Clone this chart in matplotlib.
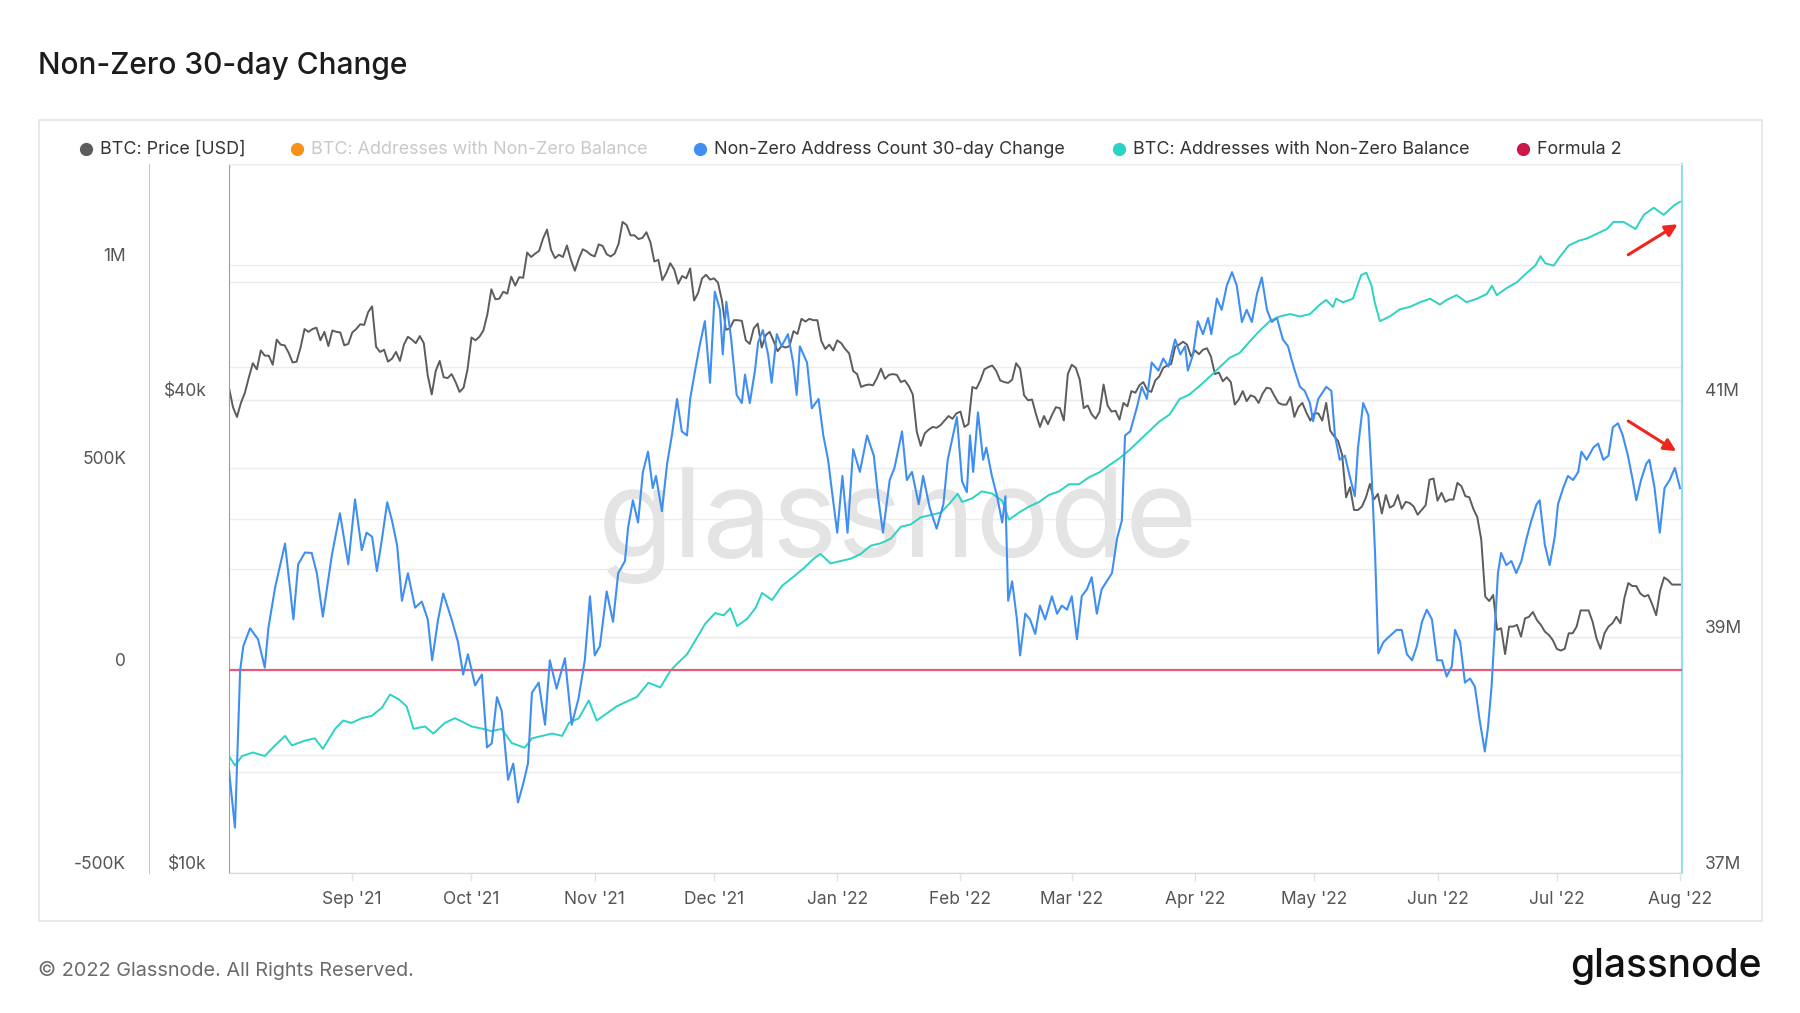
import numpy as np
import pandas as pd
import matplotlib
matplotlib.use("Agg")
import matplotlib.pyplot as plt
from matplotlib.lines import Line2D
from matplotlib.patches import Rectangle
from matplotlib.transforms import blended_transform_factory

plt.rcParams['font.family'] = ['Inter', 'DejaVu Sans']

# ---- data ----
start = pd.Timestamp("2021-08-01")

# BTC daily price, thousands of USD
aug21 = [41.5, 39.2, 38.1, 39.7, 40.9, 42.8, 44.6, 43.8, 46.3, 45.6, 45.6, 44.4, 47.8, 47.1, 47.0, 46.0,
         44.7, 44.8, 46.7, 49.3, 48.9, 49.3, 49.5, 47.7, 48.9, 46.9, 49.1, 48.9, 48.8, 47.0, 47.2]
sep21 = [48.8, 49.3, 50.0, 49.9, 51.8, 52.7, 46.8, 46.1, 46.4, 44.8, 45.2, 46.1, 44.9, 47.1, 48.2, 47.8,
         47.3, 48.3, 47.3, 43.0, 40.7, 43.6, 44.9, 42.8, 42.7, 43.2, 42.2, 41.0, 41.5, 43.8]
oct21 = [48.1, 47.7, 48.2, 49.1, 51.5, 55.4, 53.8, 53.9, 55.0, 54.7, 57.5, 56.0, 57.4, 57.3, 61.7, 60.9,
         61.5, 62.0, 64.3, 66.0, 62.2, 60.7, 61.3, 60.9, 63.0, 60.4, 58.5, 60.6, 62.3, 61.9, 61.3]
nov21 = [61.0, 63.2, 62.9, 61.4, 61.0, 61.5, 63.3, 67.5, 66.9, 64.9, 64.9, 64.2, 64.4, 65.5, 63.6, 60.1,
         60.4, 56.9, 58.1, 59.8, 58.7, 56.3, 57.6, 57.2, 58.9, 53.6, 54.8, 57.2, 57.8, 57.0]
dec21 = [57.2, 56.5, 53.6, 49.2, 49.4, 50.6, 50.6, 50.5, 47.7, 47.2, 49.4, 50.1, 46.7, 48.4, 48.9, 47.6,
         46.2, 46.9, 46.7, 46.9, 49.0, 48.6, 50.8, 50.4, 50.8, 50.6, 50.6, 47.6, 46.5, 47.1, 46.3]
jan22 = [47.7, 47.3, 46.5, 45.9, 43.6, 43.2, 41.6, 41.8, 41.9, 41.8, 42.7, 43.9, 42.6, 43.1, 43.2, 43.1,
         42.2, 42.4, 41.7, 40.7, 36.5, 35.0, 36.3, 36.7, 37.0, 36.9, 37.2, 37.7, 38.2, 37.9, 38.5]
feb22 = [38.7, 37.0, 37.3, 41.6, 41.4, 42.4, 43.8, 44.1, 44.3, 43.6, 42.4, 42.2, 42.1, 42.5, 44.6, 43.9,
         40.6, 40.0, 40.1, 38.4, 37.0, 38.2, 37.3, 38.3, 39.2, 39.1, 37.7, 43.2]
mar22 = [44.4, 44.0, 42.5, 39.1, 39.4, 38.4, 37.9, 38.7, 41.9, 39.4, 38.7, 38.8, 37.8, 39.7, 39.3, 41.1,
         40.9, 41.8, 42.2, 41.2, 41.0, 42.4, 42.9, 44.0, 44.3, 44.5, 46.8, 47.1, 47.5, 47.1, 45.5]
apr22 = [46.3, 45.8, 46.4, 46.6, 45.5, 43.2, 43.4, 42.3, 42.8, 42.2, 39.5, 40.1, 41.1, 39.9, 40.6, 40.4,
         39.7, 40.8, 41.5, 41.4, 40.5, 39.7, 39.5, 39.5, 40.4, 38.1, 39.2, 39.7, 38.6, 37.7]
may22 = [38.5, 38.5, 37.7, 39.7, 36.6, 36.0, 35.5, 34.1, 30.1, 31.0, 29.0, 29.0, 29.3, 30.1, 31.3, 29.9,
         30.4, 28.7, 30.3, 29.2, 29.4, 30.3, 29.1, 29.7, 29.6, 29.3, 28.6, 29.0, 29.4, 31.7, 31.8]
jun22 = [29.8, 30.5, 29.7, 29.9, 29.9, 31.4, 31.1, 30.2, 30.1, 29.1, 28.4, 26.6, 22.5, 22.2, 22.6, 20.4,
         20.5, 19.0, 20.6, 20.6, 20.7, 20.0, 21.1, 21.2, 21.5, 21.0, 20.7, 20.3, 20.1, 19.8]
jul22 = [19.3, 19.2, 19.3, 20.2, 20.2, 20.6, 21.6, 21.6, 21.6, 20.9, 19.9, 19.3, 20.2, 20.6, 20.8, 21.2,
         20.8, 22.4, 23.4, 23.2, 23.2, 22.7, 22.5, 22.6, 22.0, 21.3, 22.9, 23.8, 23.6, 23.3, 23.3]
aug22 = [23.3]

# Non-Zero Address Count 30-day Change (days since start, thousands)
chg_day = [0, 1.5, 2.8, 3.6, 5.3, 7.3, 9, 9.9, 11.6, 14.1, 16.2, 17.4, 19.1, 20.8, 22.1, 23.6, 25.9, 27.9,
           30, 31.7, 33.4, 34.6, 36, 37.2, 38.5, 39.8, 41, 42.3, 43.5, 45, 46.8, 48.5, 50, 51.1, 52.6,
           53.9, 56, 57.6, 58.9, 60.1, 61.9, 63.6, 64.9, 66.1, 67.4, 68.6, 70.2, 71.5, 72.7, 74, 75.2,
           76.2, 77.9, 79.5, 80.7, 82.4, 84.5, 86.2, 87.9, 89.5, 90.8, 92, 93.3, 95, 96.6, 97.9, 99.6,
           100.4, 101.6, 102.9, 104.1, 105.4, 106.6, 107.4, 108.9, 110.2, 111.4, 112.7, 113.9, 115.2,
           116, 117.2, 118.5, 119.7, 121, 122.2, 123.5, 124.2, 125.1, 126.3, 127.7, 129, 129.8, 131,
           132.3, 133.1, 134.3, 135.6, 136.5, 137.8, 139, 140.6, 141.9, 142.8, 143.6, 145.4, 146.6,
           148.3, 149.5, 150.7, 151.7, 153, 154.3, 155.6, 157, 158.7, 160.5, 162.2, 163.4, 164.5,
           166.2, 167.4, 169.3, 170.5, 171.8, 173.5, 174.6, 176.3, 178, 179.7, 180.8, 183.1, 184.4,
           185.6, 186.4, 187.2, 188.4, 189.7, 190.5, 191.9, 193.2, 194.5, 195.3, 196, 197, 198.2, 199,
           200.3, 201.5, 202.8, 204, 205.3, 207, 208.3, 209.5, 210.8, 212, 213.3, 214.5, 215.8, 217,
           218.3, 219.5, 220.8, 222.1, 223.4, 224.6, 225.4, 226.7, 228.4, 229.6, 230.9, 232.1, 233.8,
           235, 236.3, 238, 239.3, 240.5, 241.2, 242.5, 243.7, 245, 246.3, 247.1, 248.5, 249.7, 251,
           252.3, 253.5, 254.8, 256, 257.3, 258.6, 259.8, 261.1, 262.3, 263.6, 265.1, 266.4, 267.2,
           268.1, 269.4, 270.6, 271.9, 272.7, 274, 276, 277.3, 278.2, 279.4, 280.7, 281.9, 283.2, 284,
           285.3, 286.6, 287.4, 288.3, 289.1, 290.4, 292, 293.7, 295, 296.3, 297.6, 298.8, 300.1,
           301.3, 302.6, 303.9, 305.1, 306.3, 307.6, 308.4, 309.7, 310.9, 312.2, 313.4, 314.6, 315.9,
           316.7, 317.6, 318.4, 319.2, 320, 321.3, 322.6, 323.8, 325.1, 326.4, 327.6, 328.9, 329.7,
           331, 332.2, 333.5, 334.3, 335.6, 336.8, 338.1, 339.4, 340.2, 341.5, 343.2, 344.4, 345.7,
           347, 348.1, 349.4, 350.6, 351.9, 353.1, 354, 355.2, 356.5, 357.3, 358.6, 359.9, 361.1,
           362.4, 363.7, 365]
chg_val = [-247, -388, 0, 60, 104, 77, 7, 104, 205, 313, 126, 262, 291, 290, 240, 133, 286, 388,
           262, 422, 297, 340, 330, 245, 326, 415, 370, 308, 172, 240, 155, 170, 126, 25, 126,
           190, 126, 70, -10, 40, -37, -10, -190, -180, -66, -100, -270, -230, -326, -280, -230,
           -55, -30, -134, 25, -45, 30, -134, -70, 25, 183, 37, 60, 195, 120, 240, 270,
           353, 420, 365, 489, 540, 450, 480, 393, 510, 580, 670, 590, 580,
           670, 738, 807, 862, 710, 935, 890, 780, 910, 820, 680, 660, 730, 660,
           740, 810, 840, 780, 710, 830, 800, 830, 760, 680, 800, 760, 647,
           670, 580, 520, 440, 340, 480, 340, 546, 490, 580, 530, 420, 340,
           470, 500, 590, 470, 490, 410, 480, 400, 350, 410, 520, 625, 467,
           440, 580, 490, 637, 520, 550, 480, 430, 365, 430, 172, 220, 126, 37,
           140, 126, 90, 160, 126, 183, 140, 160, 150, 183, 77, 183, 200, 230,
           140, 200, 220, 240, 326, 370, 580, 590, 650, 700, 670, 760, 740,
           770, 750, 817, 780, 800, 740, 780, 862, 830, 870, 830, 918, 890, 950,
           983, 950, 860, 890, 860, 930, 970, 890, 860, 870, 817, 800, 770,
           740, 700, 690, 660, 615, 670, 700, 690, 580, 520, 530, 480, 430, 550,
           660, 630, 490, 286, 42, 70, 85, 100, 100, 40, 25, 60, 120,
           150, 126, 25, 25, -15, 10, 100, 70, -30, -20, -40, -123, -200,
           -140, -40, 100, 240, 290, 260, 270, 240, 270, 326, 370, 410, 420,
           310, 260, 330, 410, 450, 480, 470, 490, 540, 520, 550, 560, 520,
           530, 600, 610, 580, 530, 470, 420, 470, 510, 520, 450, 340, 450,
           470, 500, 450]

# BTC: Addresses with Non-Zero Balance (days since start, millions)
addr_day = [0, 1.5, 3.3, 6, 9, 11.6, 14.1, 15.8, 19.1, 21.6, 23.6, 26.7, 28.7, 30.8, 33.4, 35.9, 38.5,
            40.5, 42.7, 44.7, 46.4, 49.3, 51.4, 54.3, 56.8, 59.3, 61, 63.9, 66.1, 68.6, 71.1, 74.4,
            76.2, 78.7, 81.3, 83.8, 85.5, 88, 90.5, 92.5, 95, 97.5, 100, 102.6, 105.5, 108.5, 111,
            112.7, 115.2, 117.7, 119.8, 122.3, 124.4, 126.1, 127.8, 130.3, 132.4, 134.1, 136.6,
            139.1, 142.1, 144.6, 147.1, 148.8, 151.3, 153.8, 156.4, 158.9, 161.4, 163.9, 166.5, 169,
            171.5, 174, 176.6, 179.1, 181.6, 183.3, 184.4, 186.9, 189.4, 192, 194.5, 196.2, 198.7,
            201.2, 203.8, 206.3, 208.8, 211.3, 213.8, 216.4, 218.9, 221.4, 224, 226.5, 229, 231.5,
            234, 236.6, 239.1, 241.6, 244.1, 246.7, 249.2, 251.7, 254.2, 256.8, 259.3, 261.8, 264.3,
            266.9, 269.4, 271.9, 274.4, 276, 277.7, 278.5, 280.2, 282.7, 284.8, 286.1, 287.4, 288.2,
            289.5, 292, 294.5, 297, 299.6, 302.1, 304.6, 306.3, 308.8, 311.3, 313.9, 316.4, 317.7,
            318.9, 321.4, 324, 326.5, 328.6, 329.9, 331.1, 333.2, 334.9, 337, 339.5, 341.6, 344.1,
            346.6, 348.3, 350.8, 353.8, 355.9, 358.4, 360.9, 363.5, 365]
addr_val = [37.99, 37.91, 37.99, 38.02, 37.99, 38.08, 38.16, 38.08, 38.12, 38.14, 38.05, 38.22, 38.29,
            38.27, 38.31, 38.33, 38.40, 38.51, 38.47, 38.41, 38.22, 38.24, 38.18, 38.27, 38.31, 38.27,
            38.24, 38.22, 38.20, 38.22, 38.10, 38.06, 38.14, 38.16, 38.18, 38.16, 38.27, 38.31, 38.46,
            38.29, 38.35, 38.41, 38.45, 38.49, 38.61, 38.57, 38.71, 38.77, 38.85, 38.99, 39.11, 39.20,
            39.18, 39.24, 39.09, 39.15, 39.24, 39.37, 39.31, 39.43, 39.51, 39.58, 39.66, 39.70, 39.62,
            39.64, 39.66, 39.70, 39.77, 39.79, 39.83, 39.93, 39.95, 40.01, 40.03, 40.05, 40.14, 40.21,
            40.14, 40.17, 40.23, 40.21, 40.15, 39.99, 40.05, 40.10, 40.14, 40.20, 40.23, 40.29, 40.29,
            40.35, 40.39, 40.45, 40.51, 40.58, 40.66, 40.74, 40.82, 40.88, 41.01, 41.05, 41.12, 41.20,
            41.28, 41.36, 41.40, 41.50, 41.59, 41.67, 41.71, 41.73, 41.71, 41.73, 41.81, 41.85, 41.79,
            41.86, 41.83, 41.86, 42.06, 42.08, 41.97, 41.83, 41.67, 41.71, 41.77, 41.79, 41.83, 41.86,
            41.81, 41.85, 41.89, 41.83, 41.86, 41.90, 41.97, 41.89, 41.95, 42.00, 42.08, 42.14, 42.22,
            42.16, 42.14, 42.22, 42.31, 42.35, 42.37, 42.41, 42.45, 42.51, 42.51, 42.45, 42.57, 42.63,
            42.57, 42.65, 42.68]

formula2 = [0, 0]
formula2_day = [0, 365.5]

price = np.array(aug21 + sep21 + oct21 + nov21 + dec21 + jan22 + feb22 + mar22 + apr22 +
                 may22 + jun22 + jul22 + aug22) * 1e3
price_dates = pd.date_range(start, periods=len(price), freq="D")
chg_dates = start + pd.to_timedelta(chg_day, unit="D")
addr_dates = start + pd.to_timedelta(addr_day, unit="D")
f2_dates = start + pd.to_timedelta(formula2_day, unit="D")

C_PRICE = "#5c5c5c"
C_ORANGE = "#f7931a"
C_BLUE = "#3f8ff3"
C_TEAL = "#2bd3c3"
C_RED = "#e35d7a"
C_TICK = "#555555"

W, H = 1800, 1013
fig = plt.figure(figsize=(18, 10.13), dpi=100, facecolor="white")


def fx(px):
    return px / W


def fy(py):
    return 1 - py / H


L, R, T, B = 229, 1682, 164, 873
ax = fig.add_axes([fx(L), fy(B), fx(R) - fx(L), fy(T) - fy(B)])
axp = ax.twinx()
axa = ax.twinx()
axp.set_zorder(0)
axa.set_zorder(1)
ax.set_zorder(2)
ax.patch.set_visible(False)
axa.patch.set_visible(False)
axp.patch.set_facecolor("white")

ax.set_xlim(start, pd.Timestamp("2022-08-01 12:00"))

# limits
ax.set_ylim(-0.5e6, 1.25e6)
axp.set_yscale("log")
axp.set_ylim(10e3, 80e3)
axa.set_ylim(37e6, 43e6)

# gridlines, all drawn in the bottom axes
chg_ticks = np.arange(-500e3, 1.25e6 + 1, 250e3)
price_ticks = [10e3, 20e3, 40e3]
addr_ticks = np.arange(37e6, 43e6 + 1, 1e6)
gcol, glw = "#ececec", 1.0
for v in price_ticks:
    axp.axhline(v, color=gcol, lw=glw, zorder=0.5)
tr_c = blended_transform_factory(axp.transAxes, ax.transData)
for v in chg_ticks:
    axp.plot([0, 1], [v, v], transform=tr_c, color=gcol, lw=glw, zorder=0.5)
tr_a = blended_transform_factory(axp.transAxes, axa.transData)
for v in addr_ticks:
    axp.plot([0, 1], [v, v], transform=tr_a, color=gcol, lw=glw, zorder=0.5)

# watermark
axp.text(0.46, 0.49, "glassnode", transform=axp.transAxes, ha="center", va="center",
         fontsize=89, color="#e4e4e4", zorder=0.6)

# series
axp.plot(price_dates, price, color=C_PRICE, lw=1.4, zorder=2)
axa.plot(addr_dates, np.array(addr_val) * 1e6, color=C_TEAL, lw=1.4, zorder=2)
ax.plot(f2_dates, formula2, color=C_RED, lw=1.6, zorder=2)
ax.plot(chg_dates, np.array(chg_val) * 1e3, color=C_BLUE, lw=1.5, zorder=3)

# spines
for a in (ax, axp, axa):
    for s in a.spines.values():
        s.set_visible(False)
ax.spines["left"].set_visible(True)
ax.spines["left"].set_position(("outward", 57.6))
ax.spines["left"].set_color("#a9cdf6")
ax.spines["bottom"].set_visible(True)
ax.spines["bottom"].set_color("#d9d9d9")
ax.spines["top"].set_visible(True)
ax.spines["top"].set_color("#ececec")
axp.spines["left"].set_visible(True)
axp.spines["left"].set_color("#9d9d9d")
axa.spines["right"].set_visible(True)
axa.spines["right"].set_color("#94dde8")
axa.spines["right"].set_linewidth(1.5)

# y ticks
ax.set_yticks(chg_ticks)
ax.set_yticklabels(["-500K" if v == -500e3 else "0" if v == 0 else "500K" if v == 500e3
                    else "1M" if v == 1e6 else "" for v in chg_ticks])
axp.set_yticks(price_ticks)
axp.yaxis.set_minor_locator(matplotlib.ticker.NullLocator())
axp.set_yticklabels(["$10k", "", "$40k"])
axp.yaxis.tick_left()
axa.set_yticks(addr_ticks)
axa.set_yticklabels(["37M" if v == 37e6 else "39M" if v == 39e6 else "41M" if v == 41e6 else ""
                     for v in addr_ticks])
axa.yaxis.tick_right()

ax.tick_params(axis="y", length=0, pad=16.5, labelsize=12.5, labelcolor=C_TICK)
axp.tick_params(axis="y", length=0, pad=16, labelsize=12.5, labelcolor=C_TICK)
axa.tick_params(axis="y", length=0, pad=16.5, labelsize=12.5, labelcolor=C_TICK)

# x ticks
months = pd.date_range("2021-09-01", "2022-08-01", freq="MS")
ax.set_xticks(months)
ax.set_xticklabels([d.strftime("%b '%y") for d in months])
ax.tick_params(axis="x", length=6, width=1, color="#e2e2e2", pad=7, labelsize=12.5,
               labelcolor=C_TICK)

for a in (ax, axp, axa):
    for t in a.get_yticklabels():
        t.set_verticalalignment("bottom")

# annotation arrows
for (x0, y0, x1, y1) in [(0.963, 0.872, 0.997, 0.915), (0.963, 0.6375, 0.996, 0.595)]:
    ax.annotate("", xy=(x1, y1), xytext=(x0, y0), xycoords="axes fraction",
                textcoords="axes fraction",
                arrowprops=dict(arrowstyle="-|>", color="#f0261c", lw=2.2,
                                mutation_scale=18, shrinkA=0, shrinkB=0), zorder=5)

# legend
leg_items = [("BTC: Price [USD]", C_PRICE, "#333333", 86),
             ("BTC: Addresses with Non-Zero Balance", C_ORANGE, "#c9c9c9", 297),
             ("Non-Zero Address Count 30-day Change", C_BLUE, "#333333", 700),
             ("BTC: Addresses with Non-Zero Balance", C_TEAL, "#333333", 1119),
             ("Formula 2", "#cc1848", "#333333", 1523)]
for label, mcol, tcol, px in leg_items:
    fig.add_artist(Line2D([fx(px)], [fy(149)], marker="o", markersize=8.5, color=mcol,
                          transform=fig.transFigure))
    fig.text(fx(px + 14), fy(149), label, color=tcol, fontsize=12.9, va="center", ha="left")

# title, frame, footer
fig.text(fx(38), fy(66), "Non-Zero 30-day Change", fontsize=21.5, color="#1c1c1c",
         va="center", ha="left", fontweight="medium")
fig.add_artist(Rectangle((fx(39), fy(921)), fx(1762) - fx(39), fy(120) - fy(921),
                         transform=fig.transFigure, fill=False, edgecolor="#e4e4e4", lw=1.2))
fig.text(fx(38), fy(970), "© 2022 Glassnode. All Rights Reserved.", fontsize=14.3,
         color="#6b6b6b", va="center", ha="left")
fig.text(fx(1762), fy(966), "glassnode", fontsize=28, color="#111111", va="center",
         ha="right", fontweight="medium")

fig.savefig("out.png", dpi=100, facecolor="white")
